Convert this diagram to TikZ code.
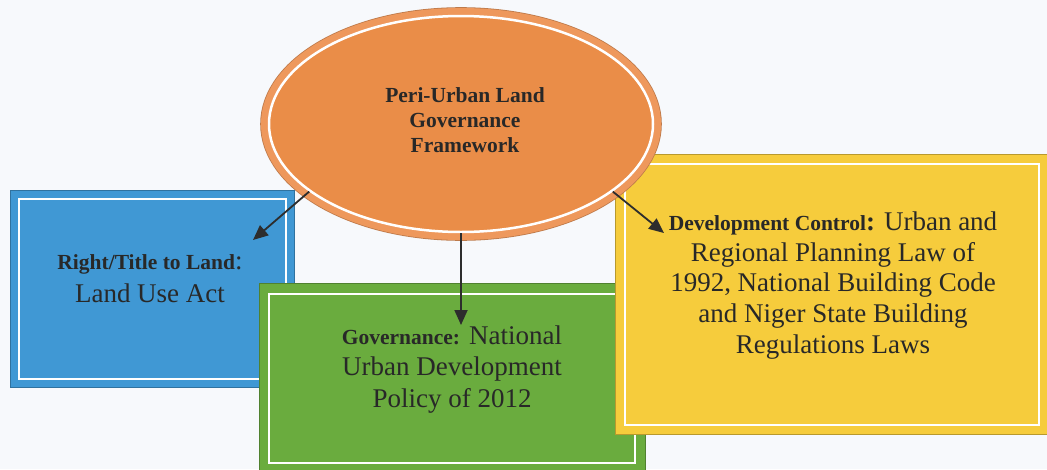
\documentclass[tikz,border=0pt]{standalone}
\usepackage{fontspec}
\setmainfont{Liberation Serif}
\usetikzlibrary{shapes.geometric,arrows.meta,calc}

\definecolor{pagebg}{RGB}{247,249,252}
\definecolor{boxblue}{RGB}{64,152,212}
\definecolor{boxgreen}{RGB}{106,172,62}
\definecolor{boxyellow}{RGB}{246,204,60}
\definecolor{perifill}{RGB}{234,141,72}
\definecolor{peririm}{RGB}{238,152,92}
\definecolor{inkgray}{RGB}{40,40,40}
\definecolor{arrowgray}{RGB}{45,45,45}

% small bold lead-in used at the start of each panel text
\newcommand{\leadin}[1]{{\fontsize{21.5}{25}\selectfont\bfseries #1}}

\begin{document}
\begin{tikzpicture}[x=1pt,y=-1pt,
  panel/.style={draw=#1!75!black, line width=0.8pt, fill=#1, inner sep=0pt, anchor=north west},
  panelline/.style={draw=white, line width=2pt},
  paneltext/.style={align=center, text=inkgray, inner sep=0pt},
  link/.style={draw=arrowgray, line width=1.8pt, -{Triangle[length=15pt,width=13pt]}}]

\useasboundingbox (0,0) rectangle (1047,469);
\fill[pagebg] (0,0) rectangle (1047,469);

% --- the three framework panels, back to front ---
\node[panel=boxblue, minimum width=284pt, minimum height=197pt] (titlebox) at (10,190) {};
\draw[panelline] ($(titlebox.north west)+(9,9)$) rectangle ($(titlebox.south east)+(-9,-9)$);

\node[panel=boxgreen, minimum width=386pt, minimum height=188pt] (govbox) at (259,283) {};
\draw[panelline] ($(govbox.north west)+(10,11)$) rectangle ($(govbox.south east)+(-11,-9)$);

\node[panel=boxyellow, minimum width=434pt, minimum height=280pt] (devbox) at (615,154) {};
\draw[panelline] ($(devbox.north west)+(10,10)$) rectangle ($(devbox.south east)+(-11,-10)$);

% --- panel texts ---
\node[paneltext, font=\fontsize{27}{33}\selectfont] (titletext) at (150,279)
  {\leadin{Right/Title to Land}:\\Land Use Act};

\node[paneltext, font=\fontsize{27}{31.5}\selectfont] (govtext) at (452,369.5)
  {\leadin{Governance:}\hspace{9pt}National\\Urban Development\\Policy of 2012};

\node[paneltext, font=\fontsize{27}{30.8}\selectfont] (devtext) at (833,285.5)
  {\leadin{Development Control}\textbf{:} Urban and\\Regional Planning Law of\\1992, National Building Code\\and Niger State Building\\Regulations Laws};

% --- central framework ellipse ---
\node[ellipse, minimum width=384pt, minimum height=216pt, fill=perifill,
      draw=white, line width=2.5pt,
      preaction={draw=peririm!80!black, line width=17.6pt},
      preaction={draw=peririm, line width=16pt}] (core) at (461,124) {};
\node[align=center, text=inkgray, inner sep=0pt,
      font=\fontsize{21.5}{25}\selectfont\bfseries] (coretext) at (465,120)
  {Peri-Urban Land\\Governance\\Framework};

% --- connectors ---
\coordinate (titletip) at (253,240);
\coordinate (govtip) at (461,325);
\coordinate (devtip) at (664,233);
\draw[link] (core.204) -- (titletip);
\draw[link] (core.south) -- (govtip);
\draw[link] (core.336) -- (devtip);

\end{tikzpicture}
\end{document}
